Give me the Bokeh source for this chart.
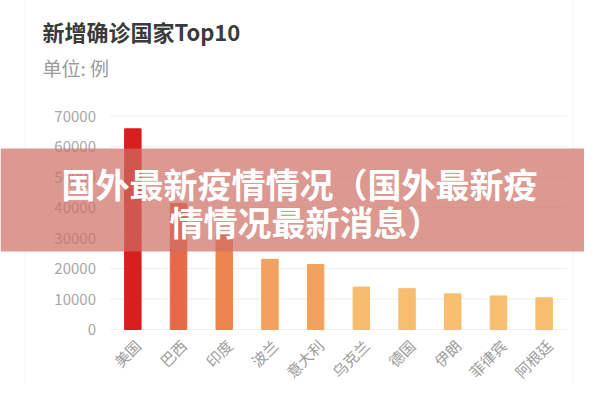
from math import pi

from bokeh.plotting import figure
from bokeh.models import ColumnDataSource, Label, BoxAnnotation, Range1d
from bokeh.embed import file_html
from bokeh.resources import INLINE

countries = ['美国', '巴西', '印度', '波兰', '意大利', '乌克兰', '德国', '伊朗', '菲律宾', '阿根廷']
cases = [65800, 41300, 30800, 23000, 21300, 13900, 13400, 11700, 11000, 10400]
y_ticks = [0, 10000, 20000, 30000, 40000, 50000, 60000, 70000]
y_labels = [str(t) for t in y_ticks]

bar_colors = ['#d81e1e', '#e8694a', '#ee854f', '#f3a15e', '#f3a25e',
              '#f7bc6e', '#f7be70', '#f7be70', '#f7be70', '#f7be70']

font = 'Noto Sans CJK SC'
idx = list(range(len(countries)))

bars = ColumnDataSource(data=dict(x=idx, country=countries, cases=cases, color=bar_colors))
ticks = ColumnDataSource(data=dict(y=y_ticks, label=y_labels,
                                   x0=[-0.5] * len(y_ticks),
                                   x1=[len(countries) - 0.5] * len(y_ticks)))

# the frame fills the whole canvas so the banner can run edge to edge
p = figure(width=584, height=384, output_backend='svg', toolbar_location=None,
           x_range=Range1d(-2.896, 9.883), y_range=Range1d(-18030, 107870),
           x_axis_location=None, y_axis_location=None,
           min_border=0)
p.outline_line_color = None
p.grid.grid_line_color = None
p.background_fill_color = 'white'
p.border_fill_color = 'white'

# card
card = BoxAnnotation(left=25, right=573, top=-6, bottom=397,
                     left_units='canvas', right_units='canvas',
                     top_units='canvas', bottom_units='canvas',
                     fill_color=None, line_color='#e4e4e4', line_width=1.5,
                     border_radius=8, level='underlay')
p.add_layout(card)

# grid lines and y labels
p.segment(x0='x0', x1='x1', y0='y', y1='y', source=ticks, line_color='#f0f0f0', line_width=1)
p.text(x='x0', y='y', text='label', source=ticks, x_offset=-14,
       text_align='right', text_baseline='middle', text_color='#a8a8a8',
       text_font={'value': font}, text_font_size='15px')

p.vbar(x='x', top='cases', width=0.36, color='color', source=bars)

# x labels
p.text(x='x', y=0, text='country', source=bars, angle=pi / 4,
       x_offset=5, y_offset=13, text_align='right', text_baseline='middle',
       text_color='#9c9c9c', text_font={'value': font}, text_font_size='15px')

p.add_layout(Label(x=42, y=30, x_units='canvas', y_units='canvas',
                   text='新增确诊国家Top10', text_font=font, text_font_size='22px',
                   text_font_style='bold', text_color='#3a3a3a', text_baseline='middle'))
p.add_layout(Label(x=42, y=67, x_units='canvas', y_units='canvas',
                   text='单位: 例', text_font=font, text_font_size='19px',
                   text_color='#9a9a9a', text_baseline='middle'))

# overlay banner
banner = BoxAnnotation(left=0, right=584, top=148, bottom=251,
                       left_units='canvas', right_units='canvas',
                       top_units='canvas', bottom_units='canvas',
                       fill_color=(205, 110, 100), fill_alpha=0.7, line_color=None,
                       level='overlay')
p.add_layout(banner)

p.add_layout(Label(x=299, y=183, x_units='canvas', y_units='canvas',
                   text='国外最新疫情情况（国外最新疫', text_font=font, text_font_size='34px',
                   text_font_style='bold', text_color='white',
                   text_align='center', text_baseline='middle', level='overlay'))
p.add_layout(Label(x=305, y=221, x_units='canvas', y_units='canvas',
                   text='情情况最新消息）', text_font=font, text_font_size='34px',
                   text_font_style='bold', text_color='white',
                   text_align='center', text_baseline='middle', level='overlay'))

open('out.html', 'w').write(file_html(p, INLINE))
